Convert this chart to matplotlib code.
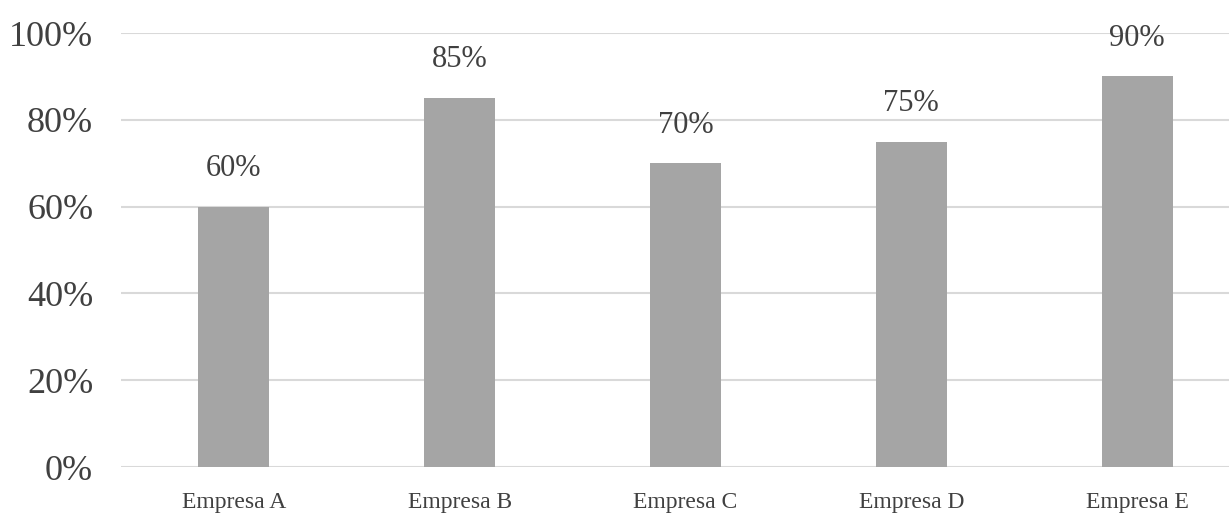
import matplotlib
matplotlib.use("Agg")
import matplotlib.pyplot as plt
import numpy as np

# Chart data
empresas = ["Empresa A", "Empresa B", "Empresa C", "Empresa D", "Empresa E"]
valores = [60, 85, 70, 75, 90]
y_ticks = [0, 20, 40, 60, 80, 100]

plt.rcParams["font.family"] = ["Liberation Serif", "DejaVu Serif"]

fig = plt.figure(figsize=(12.29, 5.24), dpi=100)
ax = fig.add_axes([121 / 1229, 1 - 467 / 524, 1 - 121 / 1229, 434 / 524])

index = np.arange(len(empresas))
bars = ax.bar(index, valores, width=0.314, color="#a5a5a5", zorder=3)

# Value labels above each bar
for x, v in zip(index, valores):
    ax.annotate(f"{v}%", (x, v), xytext=(0, 17), textcoords="offset points",
                ha="center", va="bottom", fontsize=22, color="#404040")

ax.set_xlim(-0.5, 4.407)
ax.set_ylim(0, 100)
ax.set_yticks(y_ticks)
ax.set_yticklabels([f"{t}%" for t in y_ticks], fontsize=26, color="#404040")
ax.set_xticks(index)
ax.set_xticklabels(empresas, fontsize=17, color="#404040")

ax.tick_params(axis="y", length=0, pad=20)
ax.tick_params(axis="x", length=0, pad=18)
ax.grid(axis="y", color="#d9d9d9", linewidth=1.5, zorder=0)
for side in ["top", "right", "left", "bottom"]:
    ax.spines[side].set_visible(False)

plt.savefig("out.png", dpi=100)
